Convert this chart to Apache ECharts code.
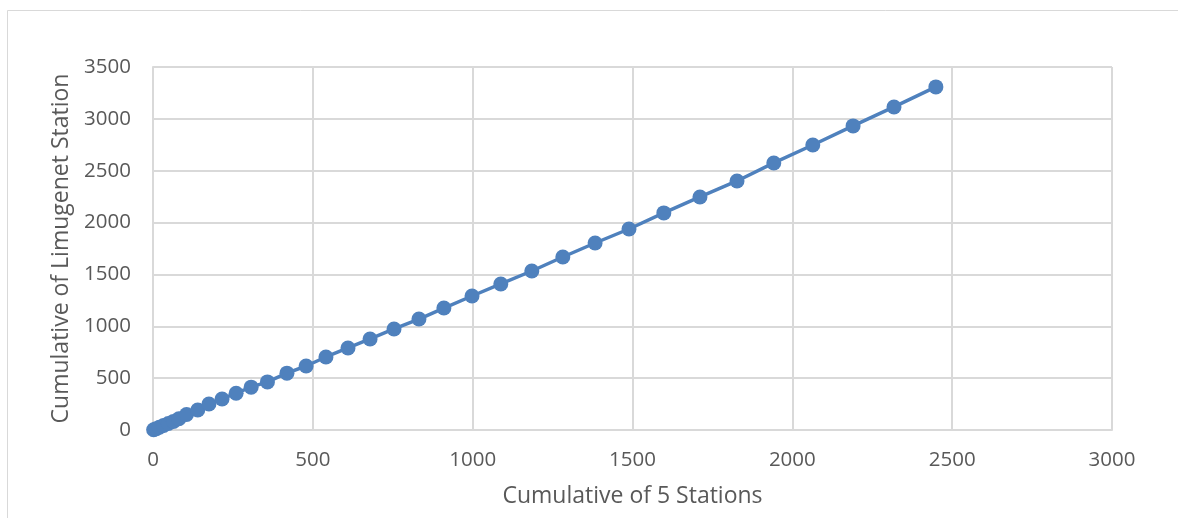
<!DOCTYPE html>
<html>
<head>
<meta charset="utf-8">
<script src="https://cdn.jsdelivr.net/npm/echarts@6/dist/echarts.min.js"></script>
<style>
html,body{margin:0;padding:0;background:#fff;}
#chart{width:1178px;height:518px;}
</style>
</head>
<body>
<div id="chart"></div>
<script>
const xTitle = "Cumulative of 5 Stations";
const yTitle = "Cumulative of Limugenet Station";
const cum5Stations = [2, 10, 20, 33, 48, 64, 81, 105, 140, 175, 216, 260, 307, 358, 419, 479, 541, 610, 679, 754, 832, 910, 998, 1088, 1185, 1282, 1383, 1489, 1598, 1711, 1827, 1942, 2064, 2190, 2318, 2449];
const cumLimugenet = [3, 13, 26, 43, 62, 83, 108, 150, 193, 250, 299, 355, 413, 464, 548, 617, 704, 791, 878, 974, 1070, 1176, 1292, 1408, 1533, 1668, 1803, 1938, 2093, 2247, 2401, 2575, 2748, 2932, 3115, 3308];

const points = cum5Stations.map((x, i) => [x, cumLimugenet[i]]);
const font = "'Open Sans', 'Noto Sans', sans-serif";
const chart = echarts.init(document.getElementById('chart'), null, {renderer: 'canvas'});
chart.setOption({
  animation: false,
  backgroundColor: '#ffffff',
  graphic: [{
    type: 'rect', left: 5, top: 8,
    shape: {width: 1171, height: 530},
    style: {fill: 'none', stroke: '#d9d9d9', lineWidth: 1}
  }],
  grid: {left: 153, top: 67, right: 66, bottom: 88, containLabel: false},
  xAxis: {
    type: 'value', min: 0, max: 3000, interval: 500,
    name: xTitle, nameLocation: 'middle', nameGap: 55,
    nameTextStyle: {color: '#595959', fontSize: 23, fontFamily: font},
    axisLine: {show: true, lineStyle: {color: '#d9d9d9', width: 2}},
    axisTick: {show: false},
    axisLabel: {color: '#595959', fontSize: 20.5, fontFamily: font, margin: 20, formatter: v => String(v)},
    splitLine: {show: true, lineStyle: {color: '#d9d9d9', width: 2}}
  },
  yAxis: {
    type: 'value', min: 0, max: 3500, interval: 500,
    name: yTitle, nameLocation: 'middle', nameGap: 80, nameRotate: 90,
    nameTextStyle: {color: '#595959', fontSize: 23, fontFamily: font},
    axisLine: {show: true, lineStyle: {color: '#d9d9d9', width: 2}},
    axisTick: {show: false},
    axisLabel: {color: '#595959', fontSize: 20.5, fontFamily: font, margin: 22, formatter: v => String(v)},
    splitLine: {show: true, lineStyle: {color: '#d9d9d9', width: 2}}
  },
  series: [{
    type: 'line',
    data: points,
    symbol: 'circle', symbolSize: 15,
    itemStyle: {color: '#4F81BD'},
    lineStyle: {color: '#4F81BD', width: 3.5}
  }]
});
</script>
</body>
</html>
